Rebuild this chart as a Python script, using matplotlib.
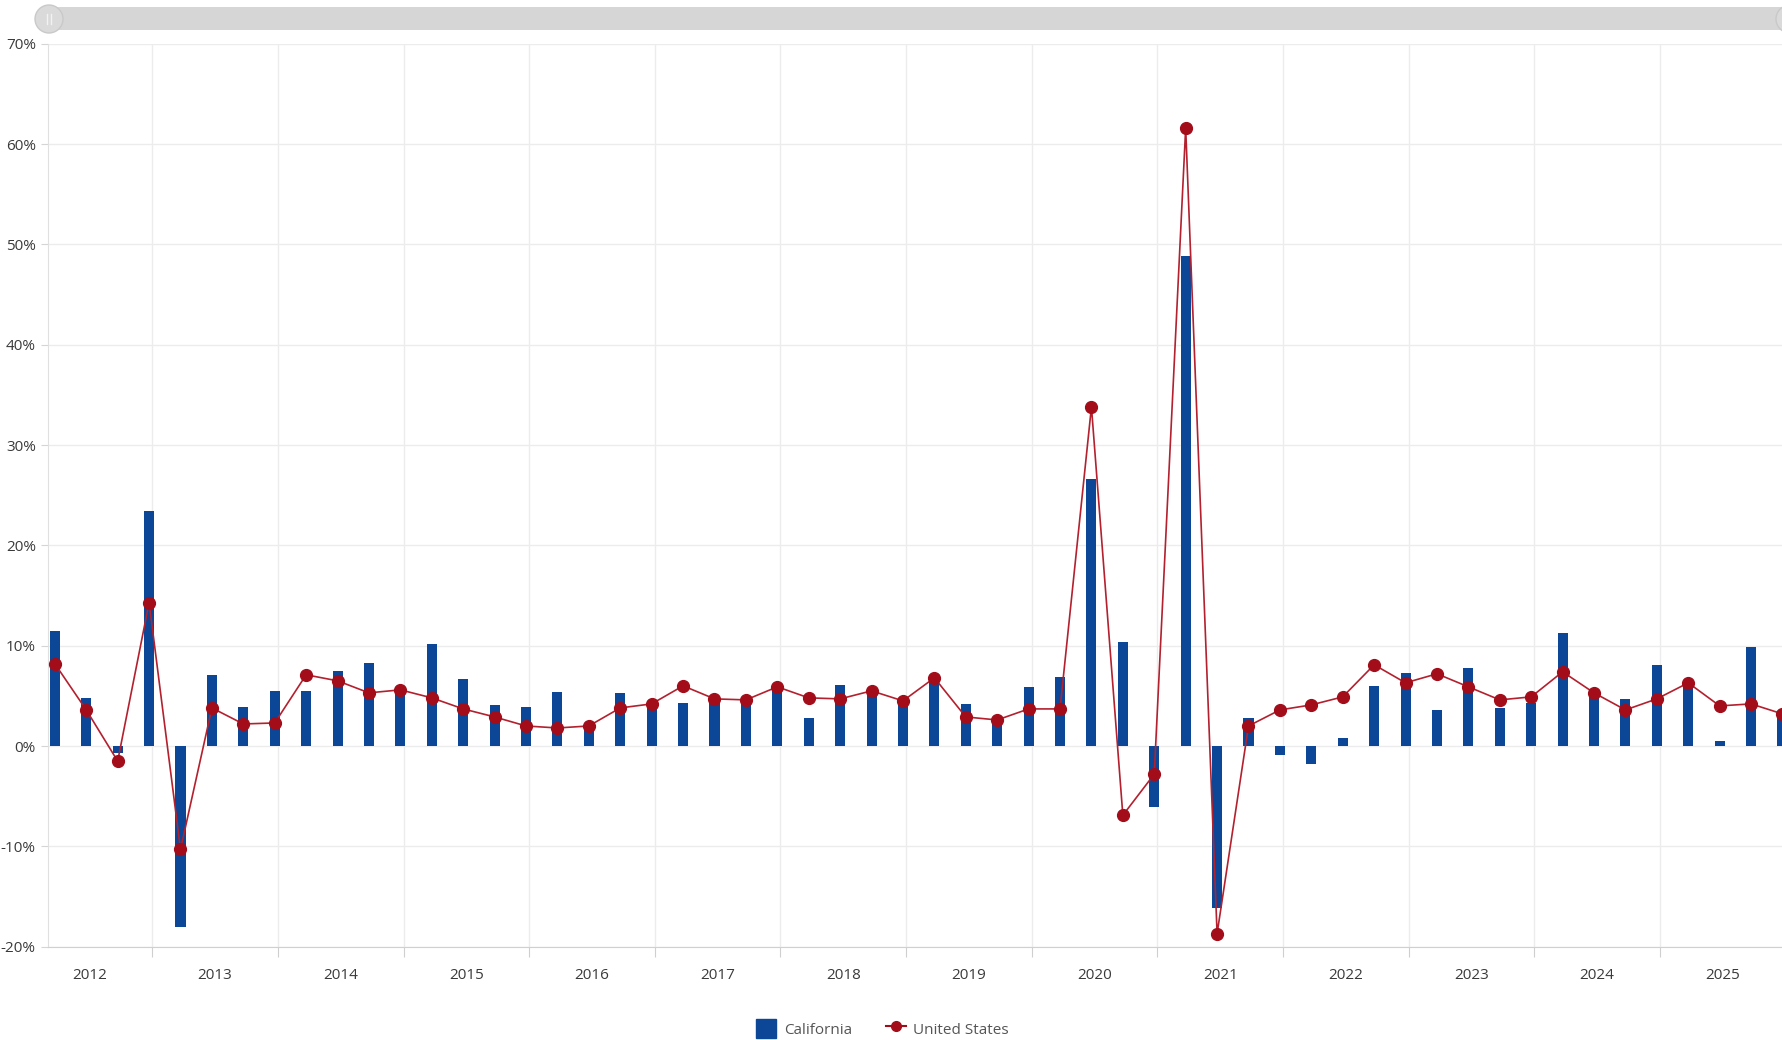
import numpy as np
import matplotlib
matplotlib.use("Agg")
import matplotlib.pyplot as plt
from matplotlib.patches import FancyBboxPatch, Circle, Patch
from matplotlib.lines import Line2D
from matplotlib.transforms import IdentityTransform

plt.rcParams['font.family'] = ['Open Sans', 'DejaVu Sans']

# quarterly growth, 2012 Q1 .. 2025 Q4 (percent)
years = list(range(2012, 2026))
california = [11.5, 4.8, -0.7, 23.4,
              -18.0, 7.1, 3.9, 5.5,
              5.5, 7.5, 8.3, 5.8,
              10.2, 6.7, 4.1, 3.9,
              5.4, 1.8, 5.3, 4.3,
              4.3, 4.8, 4.6, 5.8,
              2.8, 6.1, 5.6, 4.6,
              6.9, 4.2, 2.7, 5.9,
              6.9, 26.6, 10.4, -6.1,
              48.8, -16.1, 2.8, -0.9,
              -1.8, 0.8, 6.0, 7.3,
              3.6, 7.8, 3.8, 4.3,
              11.3, 5.1, 4.7, 8.1,
              6.2, 0.5, 9.9, 3.0]
united_states = [8.2, 3.6, -1.5, 14.3,
                 -10.3, 3.8, 2.2, 2.3,
                 7.1, 6.5, 5.3, 5.6,
                 4.8, 3.7, 2.9, 2.0,
                 1.8, 2.0, 3.8, 4.2,
                 6.0, 4.7, 4.6, 5.9,
                 4.8, 4.7, 5.5, 4.5,
                 6.8, 2.9, 2.6, 3.7,
                 3.7, 33.8, -6.9, -2.8,
                 61.6, -18.7, 2.0, 3.6,
                 4.1, 4.9, 8.1, 6.3,
                 7.2, 5.9, 4.6, 4.9,
                 7.4, 5.3, 3.6, 4.7,
                 6.3, 4.0, 4.2, 3.2]

BLUE = '#0b4697'
RED = '#a30d1a'
GRID = '#ececec'
TXT = '#3a3a3a'

# each quarter plotted near its end date
x = np.array([y + (q - 0.1) / 4 for y in years for q in range(1, 5)])

fig = plt.figure(figsize=(17.83, 10.40), dpi=100)
ax = fig.add_axes([0.0271, 0.0897, 1 - 0.0271, 0.958 - 0.0897])

ax.bar(x, california, width=0.08, color=BLUE, zorder=2)
ax.plot(x, united_states, color='#b3202e', lw=1.2, zorder=3)
ax.plot(x, united_states, 'o', color=RED, ms=8.5, zorder=4)

ax.set_yticks(range(-20, 71, 10))
ax.set_yticklabels([f"{v}%" for v in range(-20, 71, 10)])
ax.set_xticks(range(2012, 2027))
ax.set_xticklabels([])
ax.set_xticks([y + 0.5 for y in years], minor=True)
ax.set_xticklabels([str(y) for y in years], minor=True)

# limits after the ticks, otherwise set_xticks widens them
ax.set_xlim(2012.173, 2025.979)
ax.set_ylim(-20, 70)

ax.grid(True, which='major', color=GRID, lw=1.0, zorder=0)
ax.set_axisbelow(True)
ax.tick_params(axis='x', which='major', length=7, color='#cfcfcf')
ax.tick_params(axis='x', which='minor', length=0, pad=15, labelsize=11, labelcolor=TXT)
ax.tick_params(axis='y', length=5, color='#d5d5d5', pad=4, labelsize=11, labelcolor=TXT)

for s in ['top', 'right']:
    ax.spines[s].set_visible(False)
ax.spines['left'].set_color('#e0e0e0')
ax.spines['bottom'].set_color('#d0d0d0')

# scroll bar on top
H = 1040
fig.add_artist(FancyBboxPatch((49, H - 30), 1760, 23,
                              boxstyle='round,pad=0,rounding_size=11',
                              transform=IdentityTransform(),
                              facecolor='#d6d6d6', edgecolor='none'))
fig.add_artist(Circle((49, H - 19), 14, transform=IdentityTransform(),
                      facecolor='#dadada', edgecolor='#c9c9c9', lw=1))
fig.add_artist(Circle((1790, H - 19), 14, transform=IdentityTransform(),
                      facecolor='#dadada', edgecolor='#c9c9c9', lw=1))
for dx in (-2, 2):
    fig.add_artist(Line2D([49 + dx, 49 + dx], [H - 24, H - 14],
                          transform=IdentityTransform(), color='#f2f2f2', lw=1))

handles = [Patch(facecolor=BLUE, edgecolor=BLUE),
           Line2D([0], [0], color=RED, lw=1.5, marker='o', ms=7)]
fig.legend(handles, ['California', 'United States'], loc='center',
           bbox_to_anchor=(0.495, 0.011), ncol=2, frameon=False,
           fontsize=11, labelcolor='#555555', handlelength=1.3,
           handleheight=1.5, columnspacing=2.2, handletextpad=0.5)

fig.savefig('out.png', dpi=100, facecolor='white')
